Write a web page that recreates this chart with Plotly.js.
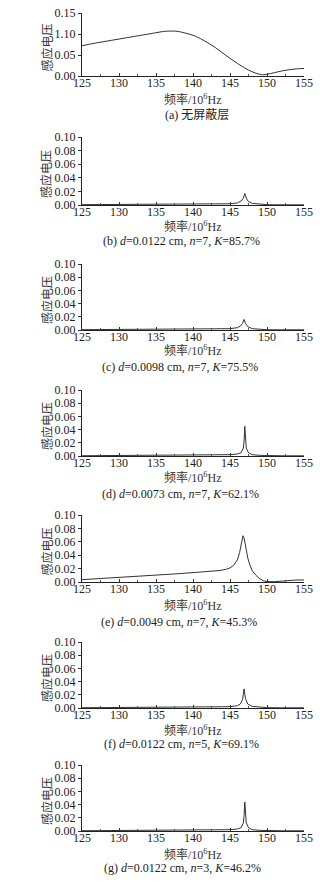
<!DOCTYPE html>
<html>
<head>
<meta charset="utf-8">
<script src="https://cdn.plot.ly/plotly-3.0.1.min.js"></script>
<style>html,body{margin:0;padding:0;background:#fff;}#chart{width:334px;height:884px;}</style>
</head>
<body>
<div id="chart"></div>
<script>
// ---- data ----
const freqA = [125,127,129,131,133,135,136,137,138,139,140,141,142,143,144,145,146,147,148,149,149.5,150,151,152,153,154,155];
const voltA = [0.072,0.079,0.085,0.091,0.097,0.103,0.106,0.107,0.106,0.102,0.097,0.089,0.079,0.068,0.055,0.042,0.030,0.019,0.010,0.004,0.003,0.004,0.008,0.012,0.015,0.017,0.018];

const freqB = [125,130,135,140,143,145,146,146.5,146.8,147,147.2,147.5,148,149,150,152,155];
const voltB = [0.0005,0.0006,0.0007,0.0009,0.0012,0.0018,0.003,0.006,0.010,0.017,0.010,0.005,0.0025,0.001,0.0004,0.0003,0.0003];

const freqC = [125,130,135,140,143,145,146,146.4,146.7,146.9,147.1,147.4,148,149,150,152,155];
const voltC = [0.0005,0.0006,0.0008,0.001,0.0013,0.002,0.0035,0.006,0.010,0.016,0.010,0.005,0.002,0.001,0.0004,0.0003,0.0003];

const freqD = [125,130,135,140,143,145,146,146.5,146.8,146.9,147,147.1,147.2,147.5,148,149,150,152,155];
const voltD = [0.0004,0.0006,0.0008,0.001,0.0013,0.002,0.003,0.005,0.012,0.022,0.045,0.022,0.012,0.005,0.002,0.001,0.0005,0.0003,0.0003];

const freqE = [125,127.5,130,132.5,135,137.5,140,142,143.5,144.5,145,145.5,146,146.3,146.6,146.75,146.9,147.1,147.4,147.7,148,148.5,149,149.5,150,151,152,153,154,155];
const voltE = [0.0035,0.005,0.0064,0.008,0.010,0.012,0.014,0.0155,0.017,0.019,0.021,0.025,0.033,0.044,0.060,0.069,0.066,0.052,0.036,0.025,0.017,0.010,0.005,0.002,0.0005,0.0005,0.0015,0.0025,0.003,0.003];

const freqF = [125,130,135,140,143,145,146,146.4,146.7,146.9,147.1,147.4,148,149,150,152,155];
const voltF = [0.0004,0.0006,0.0008,0.001,0.0013,0.002,0.0035,0.006,0.013,0.029,0.014,0.006,0.0025,0.001,0.0005,0.0003,0.0003];

const freqG = [125,130,135,140,143,145,146,146.5,146.8,146.9,147,147.1,147.2,147.5,148,149,150,152,155];
const voltG = [0.0004,0.0006,0.0008,0.001,0.0013,0.002,0.003,0.005,0.012,0.022,0.044,0.022,0.012,0.005,0.002,0.001,0.0005,0.0003,0.0003];

const yTickValsA = [0, 0.05, 0.10, 0.15];
const yTickTextA = ["0.00", "0.05", "1.10", "0.15"];
const yTickVals = [0, 0.02, 0.04, 0.06, 0.08, 0.10];
const yTickText = ["0.00", "0.02", "0.04", "0.06", "0.08", "0.10"];
const xTickVals = [125, 130, 135, 140, 145, 150, 155];

const yTitle = "感应电压";
const xTitle = "频率/10<sup>6</sup>Hz";
const captions = [
  "(a) 无屏蔽层",
  "(b) <i>d</i>=0.0122 cm, <i>n</i>=7, <i>K</i>=85.7%",
  "(c) <i>d</i>=0.0098 cm, <i>n</i>=7, <i>K</i>=75.5%",
  "(d) <i>d</i>=0.0073 cm, <i>n</i>=7, <i>K</i>=62.1%",
  "(e) <i>d</i>=0.0049 cm, <i>n</i>=7, <i>K</i>=45.3%",
  "(f) <i>d</i>=0.0122 cm, <i>n</i>=5, <i>K</i>=69.1%",
  "(g) <i>d</i>=0.0122 cm, <i>n</i>=3, <i>K</i>=46.2%"
];

const series = [
  [freqA, voltA], [freqB, voltB], [freqC, voltC], [freqD, voltD],
  [freqE, voltE], [freqF, voltF], [freqG, voltG]
];

// ---- layout geometry (pixels) ----
const W = 334, H = 884;
const plotTop =    [13, 137, 264, 390, 515, 642, 765];
const plotBottom = [76, 205, 330, 456, 582, 708, 831];
const xTitleY =    [99, 227, 351, 478, 605, 730, 854];
const captionY =   [115, 241, 367, 494, 622, 744, 868];
const captionX =   [197, 181, 180, 180, 179, 181, 182];
const xLeft = 82, xRight = 304;

const FONT = "'Liberation Serif', 'Times New Roman', 'Noto Sans CJK SC', serif";
const CJK = "'Liberation Serif', 'Noto Sans CJK SC', serif";

const traces = [];
const layout = {
  width: W, height: H,
  margin: {l: 0, r: 0, t: 0, b: 0},
  paper_bgcolor: "#fff", plot_bgcolor: "#fff",
  showlegend: false,
  font: {family: FONT, size: 12, color: "#222"},
  annotations: []
};

series.forEach((s, i) => {
  const n = i === 0 ? "" : String(i + 1);
  traces.push({
    x: s[0], y: s[1], type: "scatter", mode: "lines",
    xaxis: "x" + n, yaxis: "y" + n,
    line: {color: "#333", width: 1, shape: i === 0 ? "spline" : "linear"},
    hoverinfo: "skip"
  });
  layout["xaxis" + n] = {
    domain: [xLeft / W, xRight / W],
    anchor: "y" + n,
    range: [125, 155],
    tickvals: xTickVals,
    ticks: "inside", ticklen: 3, tickcolor: "#333",
    ticklabelstandoff: -4,
    minor: {ticks: "inside", ticklen: 2, dtick: 2.5, tickcolor: "#555"},
    showline: true, linecolor: "#222", linewidth: 1,
    showgrid: false, zeroline: false,
    tickfont: {family: FONT, size: 12, color: "#222"},
    fixedrange: true
  };
  layout["yaxis" + n] = {
    domain: [1 - plotBottom[i] / H, 1 - plotTop[i] / H],
    anchor: "x" + n,
    range: i === 0 ? [0, 0.15] : [0, 0.10],
    tickvals: i === 0 ? yTickValsA : yTickVals,
    ticktext: i === 0 ? yTickTextA : yTickText,
    ticks: "outside", ticklen: 3, tickcolor: "#333",
    showline: true, linecolor: "#222", linewidth: 1,
    showgrid: false, zeroline: false,
    tickfont: {family: FONT, size: 12, color: "#222"},
    fixedrange: true
  };
  layout.annotations.push({
    xref: "paper", yref: "paper", showarrow: false,
    x: 47 / W, y: 1 - ((plotTop[i] + plotBottom[i]) / 2 + 3) / H,
    text: yTitle, textangle: -90,
    xanchor: "center", yanchor: "middle",
    font: {family: CJK, size: 12, color: "#333"}
  });
  layout.annotations.push({
    xref: "paper", yref: "paper", showarrow: false,
    x: 193 / W, y: 1 - xTitleY[i] / H,
    text: xTitle, xanchor: "center", yanchor: "middle",
    font: {family: CJK, size: 12, color: "#333"}
  });
  layout.annotations.push({
    xref: "paper", yref: "paper", showarrow: false,
    x: captionX[i] / W, y: 1 - captionY[i] / H,
    text: captions[i], xanchor: "center", yanchor: "middle",
    font: {family: CJK, size: 12, color: "#222"}
  });
});

Plotly.newPlot("chart", traces, layout, {staticPlot: true, displayModeBar: false});
</script>
</body>
</html>
